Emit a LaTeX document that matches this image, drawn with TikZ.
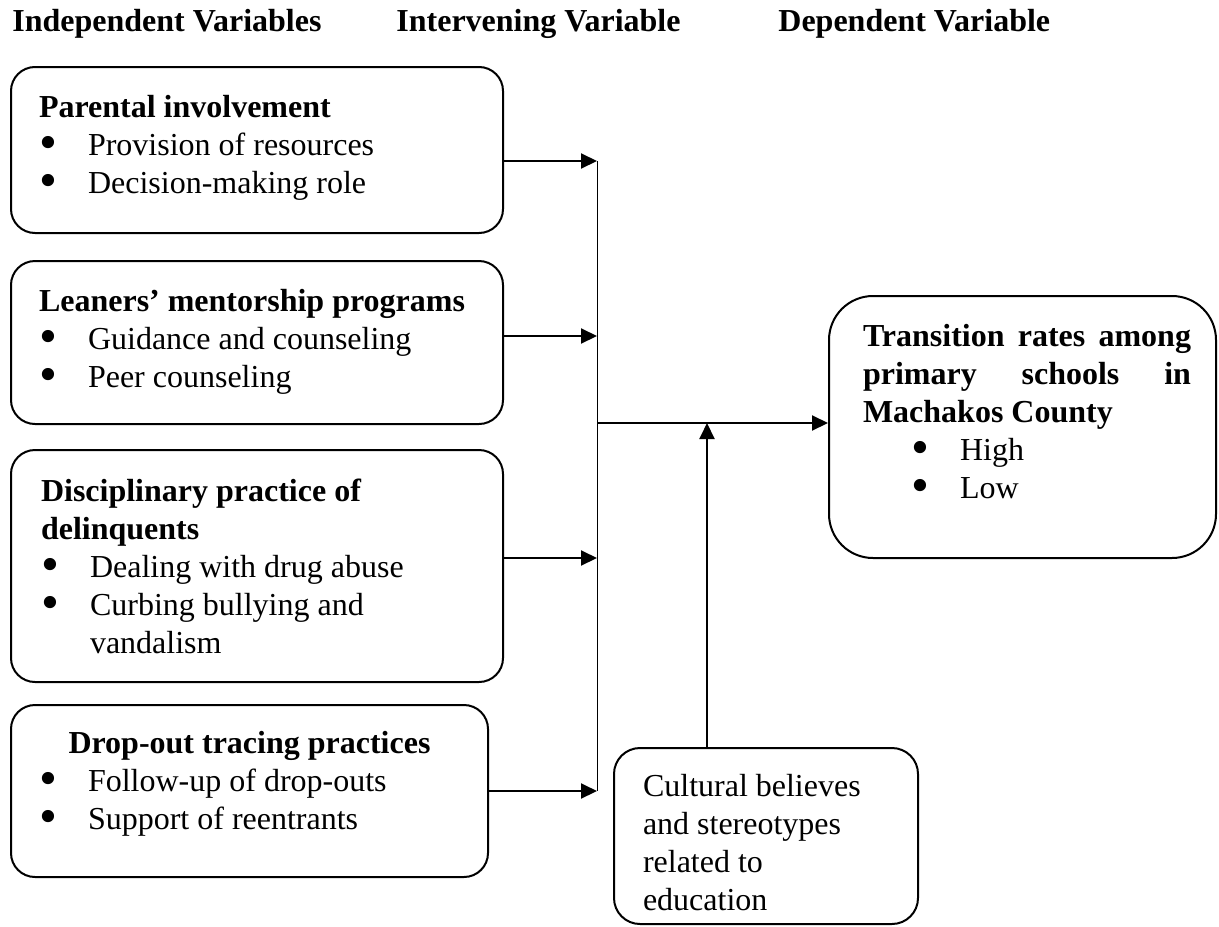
\documentclass[tikz,border=0pt]{standalone}
\usepackage{fontspec}
\setmainfont{Liberation Serif}
\usepackage{tikz}
\usetikzlibrary{
    arrows.meta,
    calc
}

\newcommand{\varbody}[5]{\parbox[c][#2][t]{#1}{\hspace*{#3}\parbox[t]{#4}{#5}}}
\newcommand{\itm}[2][0pt]{\par\noindent\hangindent=\dimexpr#1+24.5pt\relax\hspace*{#1}\makebox[24.5pt][l]{\raisebox{-2.2pt}{\scalebox{1.6}{\textbullet}}}#2}

\tikzset{
    headtext/.style={anchor=base west, inner sep=0pt, font=\fontsize{16pt}{19pt}\selectfont\bfseries},
    varbox/.style={draw, line width=1pt, inner sep=0pt, anchor=north west, rounded corners=12pt, font=\fontsize{16pt}{19pt}\selectfont},
    flow/.style={line width=1pt, -{Triangle[length=8pt,width=7.5pt]}},
    bus/.style={line width=0.5pt}
}

\begin{document}
\begin{tikzpicture}[x=0.5pt, y=-0.5pt]
        \useasboundingbox (0,0) rectangle (1219,926);
        \node [headtext] (indep) at (12,32) {Independent Variables};
        \node [headtext] (interv) at (396,32) {Intervening Variable};
        \node [headtext] (dep) at (778,32) {Dependent Variable};
        \node [varbox] (parent) at (10,66) {\varbody{246pt}{83pt}{14pt}{218pt}{%
            \rule{0pt}{25pt}\textbf{Parental involvement}
            \itm{Provision of resources}
            \itm{Decision-making role}}};
        \node [varbox] (mentor) at (10,260) {\varbody{246pt}{81.5pt}{14pt}{218pt}{%
            \rule{0pt}{25pt}\textbf{Leaners’ mentorship programs}
            \itm{Guidance and counseling}
            \itm{Peer counseling}}};
        \node [varbox] (discip) at (10,449) {\varbody{246pt}{116pt}{15pt}{216pt}{%
            \rule{0pt}{25.5pt}\textbf{Disciplinary practice of\\delinquents}
            \itm{Dealing with drug abuse}
            \itm{Curbing bullying and\\vandalism}}};
        \node [varbox] (trace) at (10,704) {\varbody{238.5pt}{86pt}{14pt}{210.5pt}{%
            {\centering\rule{0pt}{24pt}\textbf{Drop-out tracing practices}\par}
            \itm{Follow-up of drop-outs}
            \itm{Support of reentrants}}};
        \node [varbox, rounded corners=22pt] (outcome) at (828,295) {\varbody{193.5pt}{131pt}{17pt}{164pt}{%
            \rule{0pt}{25pt}\textbf{Transition rates among\linebreak primary schools in\linebreak Machakos County}
            \itm[24pt]{High}
            \itm[24pt]{Low}}};
        \node [varbox, rounded corners=13pt] (culture) at (613,747) {\varbody{152pt}{88pt}{14.5pt}{130pt}{%
            \rule{0pt}{24pt}Cultural believes\\and stereotypes\\related to\\education}};
        \coordinate (bus1) at (597,161);
        \coordinate (bus2) at (597,336);
        \coordinate (bus3) at (597,558);
        \coordinate (bus4) at (597,791);
        \coordinate (busmid) at (597,423);
        \coordinate (junction) at (707,423);
        \draw [bus] (bus1) -- (bus4);
        \draw [flow] (parent.east |- bus1) -- (bus1);
        \draw [flow] (mentor.east |- bus2) -- (bus2);
        \draw [flow] (discip.east |- bus3) -- (bus3);
        \draw [flow] (trace.east |- bus4) -- (bus4);
        \draw [flow] (busmid) -- (outcome.west |- busmid);
        \draw [flow] (culture.north -| junction) -- (junction);
\end{tikzpicture}
\end{document}
